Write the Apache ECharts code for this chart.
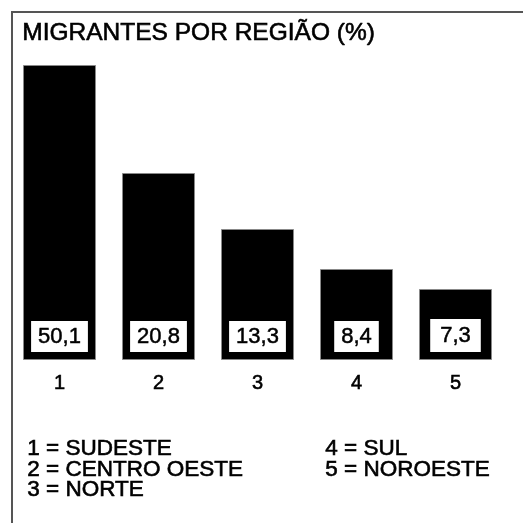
<!DOCTYPE html>
<html>
<head>
<meta charset="utf-8">
<script src="https://cdn.jsdelivr.net/npm/echarts@6/dist/echarts.min.js"></script>
<style>
  html, body { margin: 0; padding: 0; background: #fff; }
  #chart { width: 523px; height: 523px; }
</style>
</head>
<body>
<div id="chart"></div>
<script>
// regiões (eixo x)
var categories = ['1', '2', '3', '4', '5'];
// valores impressos nas caixas (%)
var percentages = ['50,1', '20,8', '13,3', '8,4', '7,3'];
// altura das barras como desenhadas na figura (não proporcional aos %)
var barHeights = [295, 187, 131, 91, 71];
// legenda
var legendLeft = ['1 = SUDESTE', '2 = CENTRO OESTE', '3 = NORTE'];
var legendRight = ['4 = SUL', '5 = NOROESTE'];

var font = '"Liberation Sans", Arial, sans-serif';
var chart = echarts.init(document.getElementById('chart'));

var barData = [];
for (var i = 0; i < barHeights.length; i++) {
    var item = { value: barHeights[i] };
    if (i === 4) {
        item.label = { padding: [6, 10, 5, 10] };
    }
    barData.push(item);
}

// texto um pouco mais "grosso", como no original
function txt(x, y, s, size) {
    return {
        type: 'text', left: x, top: y,
        style: { text: s, fill: '#000', font: size + 'px ' + font, stroke: '#000', lineWidth: 0.6 }
    };
}

var graphics = [
    // moldura (só topo e esquerda)
    { type: 'line', shape: { x1: 11, y1: 12, x2: 523, y2: 12 }, style: { stroke: '#555', lineWidth: 2 } },
    { type: 'line', shape: { x1: 12, y1: 11, x2: 12, y2: 523 }, style: { stroke: '#555', lineWidth: 2 } },
    txt(22, 20, 'MIGRANTES POR REGIÃO (%)', 24.5)
];
for (var a = 0; a < legendLeft.length; a++) {
    graphics.push(txt(27, 437 + a * 20.5, legendLeft[a], 22.5));
}
for (var b = 0; b < legendRight.length; b++) {
    graphics.push(txt(325, 437 + b * 20.5, legendRight[b], 22.5));
}

var option = {
    animation: false,
    backgroundColor: '#fff',
    grid: { left: 10, right: 18, top: 60, bottom: 163 },
    xAxis: {
        type: 'category',
        data: categories,
        axisLine: { show: false },
        axisTick: { show: false },
        axisLabel: {
            color: '#000', fontSize: 20, fontFamily: font, margin: 13,
            textBorderColor: '#000', textBorderWidth: 0.6
        }
    },
    yAxis: {
        type: 'value',
        min: 0,
        max: 300,
        show: false,
        splitLine: { show: false }
    },
    series: [{
        type: 'bar',
        data: barData,
        barWidth: 73,
        itemStyle: { color: '#000', borderColor: '#888', borderWidth: 1 },
        label: {
            show: true,
            position: 'insideBottom',
            distance: 8,
            formatter: function (p) { return percentages[p.dataIndex]; },
            color: '#000',
            fontSize: 22,
            fontFamily: font,
            textBorderColor: '#000',
            textBorderWidth: 0.5,
            backgroundColor: '#fff',
            borderColor: '#000',
            borderWidth: 1,
            padding: [5, 7, 4, 7]
        }
    }],
    graphic: graphics
};
chart.setOption(option);
</script>
</body>
</html>
